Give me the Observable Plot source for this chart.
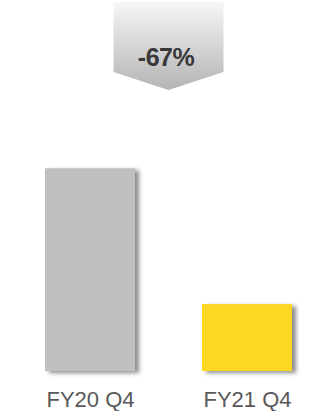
<!DOCTYPE html>
<html>
<head>
<meta charset="utf-8">
<script src="https://cdn.jsdelivr.net/npm/d3@7"></script>
<script src="https://cdn.jsdelivr.net/npm/@observablehq/plot@0.6"></script>
<style>
  html, body { margin: 0; padding: 0; background: #fff; }
  #chart svg { display: block; font-family: Arial, "Liberation Sans", sans-serif; }
</style>
</head>
<body>
<div id="chart"></div>
<script>
const categories = ["FY20 Q4", "FY21 Q4"];
const values = [100, 33];
const colors = ["#bfbfbf", "#fed724"];

const data = categories.map((c, i) => ({cat: c, value: values[i], color: colors[i]}));
const change = values[1] / values[0] - 1;
const changeLabel = [`${Math.round(change * 100)}%`];

const chart = Plot.plot({
  width: 321,
  height: 411,
  marginLeft: 10,
  marginRight: 0,
  marginTop: 0,
  marginBottom: 40,
  style: {fontFamily: "Arial, 'Liberation Sans', sans-serif", background: "transparent"},
  x: {domain: categories, range: [44, 293], paddingInner: 0.424, paddingOuter: 0, label: null},
  y: {domain: [0, 183], axis: null},
  marks: [
    Plot.barY(data, {x: "cat", y: "value", fill: "color"}),
    Plot.ruleY([0], {stroke: "#a6a6a6", strokeWidth: 2, dy: 0.5}),
    Plot.axisX({tickSize: 0, tickPadding: 20, fontSize: 22, color: "#595959"}),
    Plot.text(changeLabel, {frameAnchor: "top", dy: 48, fontSize: 25, fontWeight: "bold", fill: "#383838", text: d => d})
  ]
});
document.getElementById("chart").appendChild(chart);

// decorations: drop shadow for bars and the gradient arrow behind the change label
const ns = "http://www.w3.org/2000/svg";
const defs = document.createElementNS(ns, "defs");
defs.innerHTML = `
  <filter id="barShadow" x="-20%" y="-10%" width="150%" height="130%">
    <feDropShadow dx="4" dy="2" stdDeviation="2.2" flood-color="#000" flood-opacity="0.45"/>
  </filter>
  <linearGradient id="arrowGrad" x1="0" y1="0" x2="0" y2="1">
    <stop offset="0" stop-color="#f6f6f6"/>
    <stop offset="1" stop-color="#b4b4b4"/>
  </linearGradient>`;
chart.insertBefore(defs, chart.firstChild);
const barG = chart.querySelector('g[aria-label="bar"]');
if (barG) barG.setAttribute("filter", "url(#barShadow)");
const ruleG = chart.querySelector('g[aria-label="rule"]');
if (ruleG) ruleG.setAttribute("filter", "url(#barShadow)");

const xs = chart.scale("x");
const ys = chart.scale("y");
const b0 = xs.apply(categories[0]) + xs.bandwidth;
const b1 = xs.apply(categories[1]);
const cx = (b0 + b1) / 2;
const half = 55;
const topY = ys.apply(ys.domain[1]) + 2;
const shoulder = 72, tip = 90;
const poly = document.createElementNS(ns, "polygon");
poly.setAttribute("points", [
  [cx - half, topY], [cx + half, topY], [cx + half, shoulder], [cx, tip], [cx - half, shoulder]
].map(p => p.join(",")).join(" "));
poly.setAttribute("fill", "url(#arrowGrad)");
const textG = chart.querySelector('g[aria-label="text"]');
chart.insertBefore(poly, textG);
textG.setAttribute("letter-spacing", "-0.5");
</script>
</body>
</html>
